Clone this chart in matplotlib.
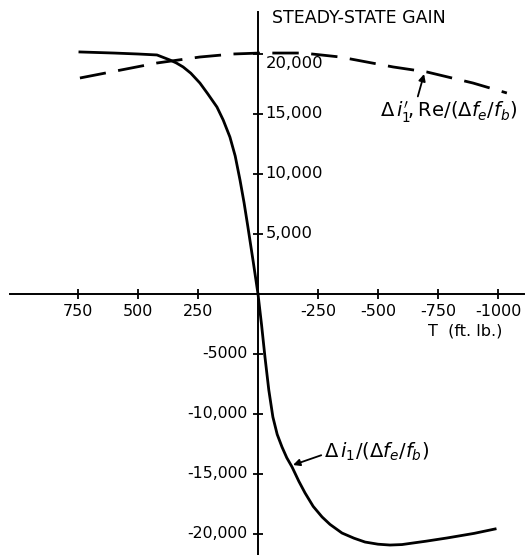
import matplotlib
matplotlib.use("Agg")
import matplotlib.pyplot as plt

# ---- data ----
solid_T = [742, 600, 500, 421, 367, 340, 312, 280, 242, 210, 171, 145, 117, 95,
           75, 58, 42, 20, 0, -15, -29, -45, -62, -80, -100, -120, -142, -170,
           -196, -230, -267, -300, -350, -400, -446, -500, -550, -600, -646,
           -700, -788, -900, -988]
solid_val = [20170, 20080, 20000, 19920, 19500, 19250, 18920, 18400, 17580,
             16700, 15580, 14500, 13080, 11500, 9500, 7600, 5580, 2700, 0,
             -2600, -5250, -8000, -10250, -11700, -12750, -13650, -14420,
             -15600, -16580, -17700, -18580, -19200, -19920, -20350, -20670,
             -20850, -20920, -20880, -20750, -20600, -20330, -19950, -19580]

dash_T = [742, 421, 242, 104, -8, -188, -342, -454, -563, -704, -896, -1037]
dash_val = [18000, 19250, 19750, 20000, 20080, 20080, 19750, 19330, 18920,
            18500, 17580, 16750]

x_ticks = [750, 500, 250, -250, -500, -750, -1000]
x_tick_labels = ["750", "500", "250", "-250", "-500", "-750", "-1000"]
y_pos_ticks = [20000, 15000, 10000, 5000]
y_pos_labels = ["20,000", "15,000", "10,000", "5,000"]
y_neg_ticks = [-5000, -10000, -15000, -20000]
y_neg_labels = ["-5000", "-10,000", "-15,000", "-20,000"]

plt.rcParams["font.family"] = ["DejaVu Sans"]
plt.rcParams["mathtext.fontset"] = "dejavusans"

fig = plt.figure(figsize=(5.28, 5.55), dpi=100)
ax = fig.add_axes([0, 0, 1, 1])
ax.set_xlim(1075, -1125)
ax.set_ylim(-21750, 24500)

for s in ["top", "right"]:
    ax.spines[s].set_visible(False)
ax.spines["left"].set_position(("data", 0))
ax.spines["bottom"].set_position(("data", 0))
ax.spines["left"].set_linewidth(1.4)
ax.spines["bottom"].set_linewidth(1.4)
ax.spines["bottom"].set_bounds(1035, -1110)
ax.spines["left"].set_bounds(-21750, 23500)

ax.set_xticks(x_ticks)
ax.set_xticklabels(x_tick_labels, fontsize=11.5)
ax.tick_params(axis="x", direction="inout", length=7, width=1.3, pad=4)
ax.set_yticks(y_pos_ticks + y_neg_ticks)
ax.set_yticklabels([])
ax.tick_params(axis="y", direction="inout", length=7, width=1.3)

for v, lab in zip(y_pos_ticks, y_pos_labels):
    dy = -6.5 if v == 20000 else 0
    ax.annotate(lab, (0, v), xytext=(5.5, dy), textcoords="offset points",
                ha="left", va="center", fontsize=11.8)
for v, lab in zip(y_neg_ticks, y_neg_labels):
    ax.annotate(lab, (0, v), xytext=(-7.5, 0), textcoords="offset points",
                ha="right", va="center", fontsize=11.3)

ax.plot(solid_T, solid_val, color="black", lw=2.0, solid_joinstyle="round")
ax.plot(dash_T, dash_val, color="black", lw=2.0, dashes=(9.5, 4.5))

ax.text(-58, 23000, "STEADY-STATE GAIN", fontsize=12.5, ha="left", va="center")
ax.text(-708, -3080, "T  (ft. lb.)", fontsize=11.5, ha="left", va="center")

ax.annotate(r"$\Delta\,i_1^{\prime}\!,\mathrm{Re}/(\Delta f_e/f_b)$",
            xy=(-692, 18330), xytext=(-508, 15170), fontsize=14,
            ha="left", va="center",
            arrowprops=dict(arrowstyle="-|>", color="black", lw=1.3,
                            shrinkA=0, shrinkB=0, mutation_scale=10,
                            relpos=(0.27, 1.0)))
ax.annotate(r"$\Delta\,i_1/(\Delta f_e/f_b)$",
            xy=(-146, -14250), xytext=(-275, -13170), fontsize=14,
            ha="left", va="center",
            arrowprops=dict(arrowstyle="-|>", color="black", lw=1.3,
                            shrinkA=0, shrinkB=0, mutation_scale=10,
                            relpos=(0.0, 0.4)))

fig.savefig("out.png", dpi=100)
